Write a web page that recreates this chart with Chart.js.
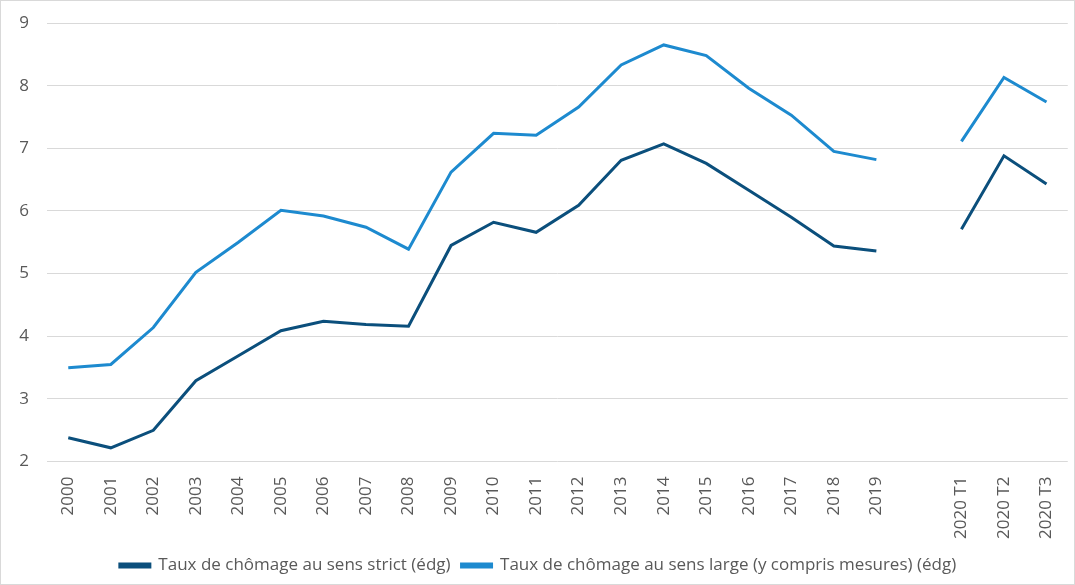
<!DOCTYPE html>
<html>
<head>
<meta charset="utf-8">
<script src="https://cdn.jsdelivr.net/npm/chart.js@4.4.1/dist/chart.umd.min.js"></script>
<style>
  html, body { margin: 0; padding: 0; background: #fff; }
  #wrap { position: relative; width: 1075px; height: 585px; box-sizing: border-box; border: 1px solid #d9d9d9; }
</style>
</head>
<body>
<div id="wrap"><canvas id="chart"></canvas></div>
<script>
// Categories: yearly 2000-2019, an empty slot, then 2020 quarters
const labels = ['2000', '2001', '2002', '2003', '2004', '2005', '2006', '2007', '2008', '2009',
  '2010', '2011', '2012', '2013', '2014', '2015', '2016', '2017', '2018', '2019',
  '', '2020 T1', '2020 T2', '2020 T3'];

// Taux de chômage au sens strict (édg)
const strictRate = [2.38, 2.22, 2.50, 3.29, 3.69, 4.09, 4.24, 4.19, 4.16, 5.45,
  5.82, 5.66, 6.09, 6.81, 7.07, 6.76, 6.33, 5.90, 5.44, 5.36,
  null, 5.71, 6.88, 6.43];

// Taux de chômage au sens large (y compris mesures) (édg)
const broadRate = [3.50, 3.55, 4.14, 5.02, 5.50, 6.01, 5.92, 5.74, 5.39, 6.62,
  7.24, 7.21, 7.66, 8.33, 8.65, 8.48, 7.96, 7.53, 6.95, 6.82,
  null, 7.11, 8.13, 7.74];

const yTicks = [2, 3, 4, 5, 6, 7, 8, 9];

const textColor = '#595959';
const fontFamily = '"Open Sans", "Liberation Sans", sans-serif';

const ctx = document.getElementById('chart').getContext('2d');
new Chart(ctx, {
  type: 'line',
  data: {
    labels: labels,
    datasets: [{
      label: 'Taux de chômage au sens strict (édg)',
      data: strictRate,
      borderColor: '#0b4f7c',
      backgroundColor: '#0b4f7c',
      borderWidth: 3,
      pointRadius: 0,
      tension: 0,
      spanGaps: false
    }, {
      label: 'Taux de chômage au sens large (y compris mesures) (édg)',
      data: broadRate,
      borderColor: '#1d8acf',
      backgroundColor: '#1d8acf',
      borderWidth: 3,
      pointRadius: 0,
      tension: 0,
      spanGaps: false
    }]
  },
  options: {
    responsive: true,
    maintainAspectRatio: false,
    animation: false,
    layout: {
      padding: { left: 6, right: 5, top: 22, bottom: 0 }
    },
    scales: {
      y: {
        min: yTicks[0],
        max: yTicks[yTicks.length - 1],
        afterBuildTicks: axis => { axis.ticks = yTicks.map(v => ({ value: v })); },
        afterFit: axis => { axis.width = 40; axis.paddingTop = 0; },
        border: { display: false },
        grid: { color: '#d9d9d9', lineWidth: 1, drawTicks: false },
        ticks: { color: textColor, padding: 18, font: { family: fontFamily, size: 17 } }
      },
      x: {
        offset: true,
        border: { display: false },
        grid: { display: false },
        ticks: {
          color: textColor,
          minRotation: 90,
          maxRotation: 90,
          autoSkip: false,
          padding: 7,
          font: { family: fontFamily, size: 17 }
        }
      }
    },
    plugins: {
      legend: {
        position: 'bottom',
        labels: {
          color: textColor,
          boxWidth: 30,
          boxHeight: 3,
          padding: 11,
          font: { family: fontFamily, size: 17 }
        }
      },
      tooltip: { enabled: false }
    }
  }
});
</script>
</body>
</html>
